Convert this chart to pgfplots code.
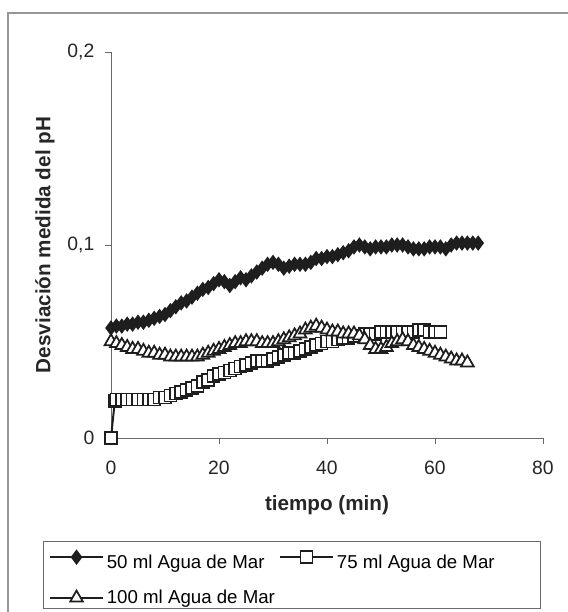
\documentclass[border=0pt]{standalone}
\usepackage{pgfplots}
\pgfplotsset{compat=1.18}
\usepackage{fontspec}
\setmainfont{Liberation Sans}
\definecolor{serie}{HTML}{1E1E1E}
\definecolor{axisgray}{HTML}{6A6A6A}
\begin{document}
\begin{tikzpicture}[x=1pt,y=1pt]
\useasboundingbox (0,0) rectangle (426,459);
\draw[axisgray!70, line width=1.1pt] (6,0) -- (6,449.25) -- (426,449.25);
\begin{axis}[
  at={(83.25pt,130.5pt)}, anchor=south west,
  scale only axis, width=324pt, height=289.5pt,
  xmin=0, xmax=80, ymin=0, ymax=0.2,
  axis lines=left, axis line style={-, axisgray, line width=0.7pt},
  tick align=outside, major tick length=4.5pt,
  tick style={axisgray, line width=0.7pt},
  xtick={0,20,40,60,80}, xticklabels={0,20,40,60,80},
  ytick={0,0.1,0.2}, yticklabels={0,{0,1},{0,2}},
  ticklabel style={font=\fontsize{14.5}{16}\selectfont, text=black!85},
  xticklabel style={yshift=-9pt},
  yticklabel style={xshift=-4.5pt},
  xlabel={tiempo (min)}, ylabel={Desviación medida del pH},
  label style={font=\fontsize{15.5}{17}\selectfont\bfseries, text=black!85},
  xlabel style={at={(axis description cs:0.5,0)}, anchor=center, yshift=-50.5pt},
  ylabel style={at={(axis description cs:-0.1528,0.5)}, anchor=center},
  clip=false,
  legend columns=2,
  legend cell align=left,
  legend image code/.code={\draw[mark repeat=2,mark phase=2] plot coordinates {(0pt,0pt)(20pt,0pt)(40pt,0pt)};},
  legend style={at={(axis description cs:-0.1574,-0.2668)}, anchor=north west,
    draw=axisgray, line width=0.8pt, font=\fontsize{14}{16}\selectfont,
    inner xsep=4pt, inner ysep=0pt, row sep=11pt,
    /tikz/every even column/.append style={column sep=1pt}},
]
\addplot[serie, line width=1.5pt, mark=diamond*, mark size=5pt, mark options={fill=serie, line width=1pt}] table[row sep=\\] {
x y\\
0 0.057\\ 1 0.058\\ 2 0.058\\ 3 0.059\\ 4 0.059\\ 5 0.060\\ 6 0.060\\ 7 0.061\\ 8 0.062\\ 9 0.063\\
10 0.064\\ 11 0.066\\ 12 0.068\\ 13 0.070\\ 14 0.071\\ 15 0.073\\ 16 0.075\\ 17 0.077\\ 18 0.078\\ 19 0.080\\
20 0.082\\ 21 0.081\\ 22 0.079\\ 23 0.081\\ 24 0.083\\ 25 0.082\\ 26 0.084\\ 27 0.086\\ 28 0.088\\ 29 0.090\\
30 0.091\\ 31 0.090\\ 32 0.088\\ 33 0.089\\ 34 0.090\\ 35 0.090\\ 36 0.090\\ 37 0.091\\ 38 0.093\\ 39 0.093\\
40 0.094\\ 41 0.094\\ 42 0.095\\ 43 0.096\\ 44 0.097\\ 45 0.099\\ 46 0.100\\ 47 0.099\\ 48 0.098\\ 49 0.099\\
50 0.099\\ 51 0.099\\ 52 0.100\\ 53 0.100\\ 54 0.100\\ 55 0.099\\ 56 0.098\\ 57 0.098\\ 58 0.098\\ 59 0.099\\
60 0.099\\ 61 0.099\\ 62 0.098\\ 63 0.100\\ 64 0.101\\ 65 0.101\\ 66 0.101\\ 67 0.101\\ 68 0.101\\
};
\addlegendentry{\rule{0pt}{18pt}50 ml Agua de Mar}
\addplot[serie, line width=1.5pt, mark=square*, mark size=4.5pt, mark options={fill=white, line width=1.3pt}] table[row sep=\\] {
x y\\
0 0\\ 0.7 0.019\\ 1 0.020\\ 2 0.020\\ 3 0.020\\ 4 0.020\\ 5 0.020\\ 6 0.020\\ 7 0.020\\ 8 0.020\\ 9 0.021\\
10 0.021\\ 11 0.022\\ 12 0.023\\ 13 0.024\\ 14 0.025\\ 15 0.026\\ 16 0.027\\ 17 0.029\\ 18 0.030\\ 19 0.032\\
20 0.033\\ 21 0.034\\ 22 0.035\\ 23 0.036\\ 24 0.037\\ 25 0.038\\ 26 0.039\\ 27 0.040\\ 28 0.040\\ 29 0.040\\
30 0.041\\ 31 0.042\\ 32 0.043\\ 33 0.044\\ 34 0.044\\ 35 0.045\\ 36 0.046\\ 37 0.047\\ 38 0.048\\ 39 0.049\\
40 0.050\\ 41 0.050\\ 42 0.051\\ 43 0.052\\ 44 0.052\\ 45 0.053\\ 46 0.053\\ 47 0.054\\ 48 0.054\\ 49 0.054\\
50 0.055\\ 51 0.055\\ 52 0.055\\ 53 0.055\\ 54 0.055\\ 55 0.055\\ 56 0.055\\ 57 0.056\\ 58 0.056\\ 59 0.055\\
60 0.055\\ 61 0.055\\
};
\addlegendentry{\rule{0pt}{18pt}\makebox[147pt][l]{75 ml Agua de Mar}}
\addplot[serie, line width=1.5pt, mark=triangle*, mark size=5.5pt, mark options={fill=white, line width=1.3pt}] table[row sep=\\] {
x y\\
0 0.050\\ 1 0.049\\ 2 0.048\\ 3 0.047\\ 4 0.046\\ 5 0.046\\ 6 0.045\\ 7 0.044\\ 8 0.044\\ 9 0.043\\
10 0.043\\ 11 0.042\\ 12 0.042\\ 13 0.042\\ 14 0.042\\ 15 0.042\\ 16 0.042\\ 17 0.043\\ 18 0.044\\ 19 0.045\\
20 0.046\\ 21 0.047\\ 22 0.048\\ 23 0.049\\ 24 0.049\\ 25 0.050\\ 26 0.050\\ 27 0.050\\ 28 0.049\\ 29 0.049\\
30 0.049\\ 31 0.050\\ 32 0.051\\ 33 0.052\\ 34 0.053\\ 35 0.054\\ 36 0.056\\ 37 0.057\\ 38 0.058\\ 39 0.057\\
40 0.056\\ 41 0.055\\ 42 0.055\\ 43 0.054\\ 44 0.054\\ 45 0.054\\ 46 0.053\\ 47 0.051\\ 48 0.048\\ 49 0.046\\
50 0.046\\ 51 0.047\\ 52 0.049\\ 53 0.050\\ 54 0.051\\ 55 0.050\\ 56 0.048\\ 57 0.047\\ 58 0.046\\ 59 0.045\\
60 0.044\\ 61 0.043\\ 62 0.042\\ 63 0.041\\ 64 0.040\\ 65 0.040\\ 66 0.039\\
};
\addlegendentry{100 ml Agua de Mar}
\end{axis}
\end{tikzpicture}
\end{document}
